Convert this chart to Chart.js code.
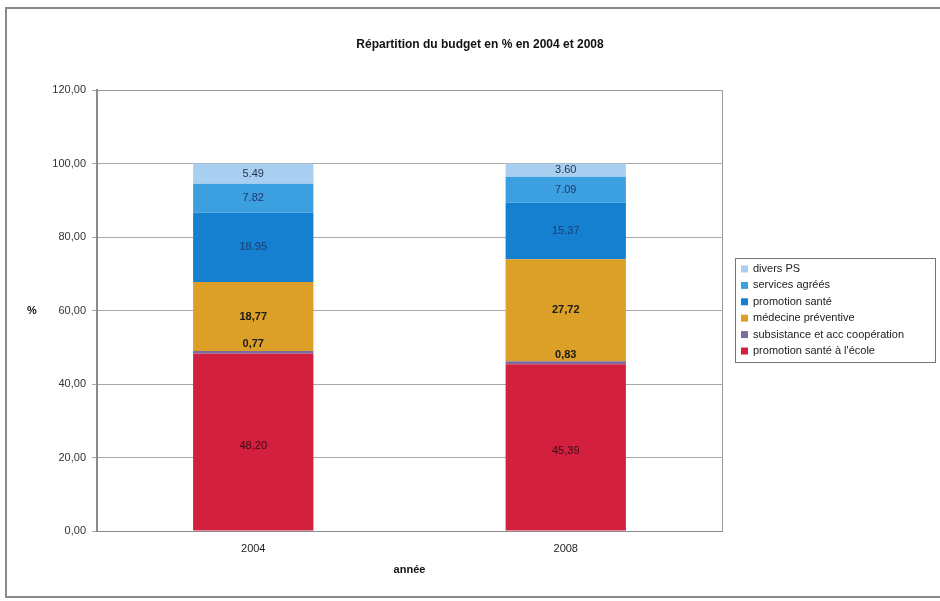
<!DOCTYPE html>
<html>
<head>
<meta charset="utf-8">
<script src="https://cdn.jsdelivr.net/npm/chart.js@4.4.1/dist/chart.umd.min.js"></script>
<style>
  html, body { margin: 0; padding: 0; background: #fff; }
  #wrap { width: 940px; height: 601px; position: relative; }
</style>
</head>
<body>
<div id="wrap"><canvas id="budgetChart" width="940" height="601"></canvas></div>
<script>
// categories and series (stack order, bottom to top)
const years = ["2004", "2008"];
const seriesNames = [
  "promotion santé à l'école",
  "subsistance et acc coopération",
  "médecine préventive",
  "promotion santé",
  "services agréés",
  "divers PS"
];
const ecole = [48.20, 45.39];
const subsistance = [0.77, 0.83];
const medecine = [18.77, 27.72];
const promotion = [18.95, 15.37];
const services = [7.82, 7.09];
const divers = [5.49, 3.60];
const yTicks = [0, 20, 40, 60, 80, 100, 120];

const chartTitle = "Répartition du budget en % en 2004 et 2008";
const yTitle = "%";
const xTitle = "année";

const seriesValues = [ecole, subsistance, medecine, promotion, services, divers];
const colors = ["#d2203e", "#7e6c9c", "#dca028", "#1580d0", "#3c9fe0", "#a9cff0"];
// how each series prints its value labels
const labelStyle = [
  { sep: ",", color: "#3a0a14", bold: false, dy: 4 },
  { sep: ",", color: "#1a1a1a", bold: true, dy: -8 },
  { sep: ",", color: "#1a1a1a", bold: true, dy: 0 },
  { sep: ".", color: "#1d3a6e", bold: false, dy: 0 },
  { sep: ".", color: "#1d3a6e", bold: false, dy: 0 },
  { sep: ".", color: "#1d2f55", bold: false, dy: 0 }
];

const FONT = "'Liberation Sans', Arial, sans-serif";
const fmt = (v, sep) => v.toFixed(2).replace(".", sep);

const datasets = seriesNames.map((name, i) => ({
  label: name,
  data: seriesValues[i],
  backgroundColor: colors[i],
  borderWidth: 0,
  barPercentage: 0.77,
  categoryPercentage: 0.5
}));

// frame around the whole chart, plot area box, titles
const framePlugin = {
  id: "frame",
  beforeDraw(chart) {
    const { ctx } = chart;
    ctx.save();
    ctx.fillStyle = "#fff";
    ctx.fillRect(0, 0, chart.width, chart.height);
    ctx.strokeStyle = "#8a8a8a";
    ctx.lineWidth = 2;
    ctx.strokeRect(6, 8, chart.width + 10, chart.height - 12);

    ctx.fillStyle = "#111";
    ctx.textAlign = "center";
    ctx.textBaseline = "middle";
    ctx.font = "bold 12px " + FONT;
    ctx.fillText(chartTitle, 480, 45);
    ctx.font = "bold 11px " + FONT;
    ctx.fillText(yTitle, 32, 311);
    ctx.restore();
  },
  afterDatasetsDraw(chart) {
    const { ctx, chartArea: a } = chart;
    ctx.save();
    ctx.strokeStyle = "#9a9a9a";
    ctx.lineWidth = 1;
    ctx.beginPath();
    ctx.moveTo(a.left, a.top + 0.5);
    ctx.lineTo(a.right + 0.5, a.top + 0.5);
    ctx.lineTo(a.right + 0.5, a.bottom);
    ctx.stroke();
    ctx.restore();
  }
};

// value labels in the middle of each segment
const valueLabels = {
  id: "valueLabels",
  afterDatasetsDraw(chart) {
    const { ctx } = chart;
    ctx.save();
    ctx.textAlign = "center";
    ctx.textBaseline = "middle";
    chart.data.datasets.forEach((ds, i) => {
      const st = labelStyle[i];
      ctx.font = (st.bold ? "bold " : "") + "11px " + FONT;
      ctx.fillStyle = st.color;
      chart.getDatasetMeta(i).data.forEach((bar, j) => {
        const mid = (bar.y + bar.base) / 2;
        ctx.fillText(fmt(ds.data[j], st.sep), bar.x, mid + st.dy);
      });
    });
    ctx.restore();
  }
};

// legend box on the right, top series first
const sideLegend = {
  id: "sideLegend",
  afterDraw(chart) {
    const { ctx } = chart;
    const x = 735, y = 258, w = 200, h = 104;
    ctx.save();
    ctx.strokeStyle = "#777";
    ctx.lineWidth = 1;
    ctx.strokeRect(x + 0.5, y + 0.5, w, h);
    ctx.font = "11px " + FONT;
    ctx.textBaseline = "middle";
    const rows = seriesNames.map((n, i) => i).reverse();
    rows.forEach((idx, r) => {
      const cy = y + 11 + r * 16.4;
      ctx.fillStyle = colors[idx];
      ctx.fillRect(x + 6, cy - 3.5, 7, 7);
      ctx.fillStyle = "#222";
      ctx.fillText(seriesNames[idx], x + 18, cy);
    });
    ctx.restore();
  }
};

new Chart(document.getElementById("budgetChart"), {
  type: "bar",
  data: { labels: years, datasets },
  options: {
    responsive: false,
    animation: false,
    layout: { padding: { left: 0, right: 218, top: 90, bottom: 0 } },
    plugins: {
      legend: { display: false },
      tooltip: { enabled: false },
      title: { display: false }
    },
    scales: {
      x: {
        stacked: true,
        grid: { display: false, tickLength: 5 },
        border: { color: "#8a8a8a", width: 1 },
        ticks: { color: "#222", padding: 6, font: { family: FONT, size: 11 } },
        title: {
          display: true,
          text: xTitle,
          color: "#111",
          font: { family: FONT, size: 11, weight: "bold" },
          padding: { top: 4, bottom: 24 }
        },
        afterFit(s) { s.height = 70; }
      },
      y: {
        stacked: true,
        min: 0,
        max: 120,
        afterBuildTicks(s) { s.ticks = yTicks.map(v => ({ value: v })); },
        grid: { color: "#a8a8a8", tickLength: 5 },
        border: { color: "#8a8a8a", width: 2 },
        ticks: {
          color: "#333",
          padding: 6,
          font: { family: FONT, size: 11 },
          callback: v => fmt(v, ",")
        },
        afterFit(s) { s.width = 97; }
      }
    }
  },
  plugins: [framePlugin, valueLabels, sideLegend]
});
</script>
</body>
</html>
